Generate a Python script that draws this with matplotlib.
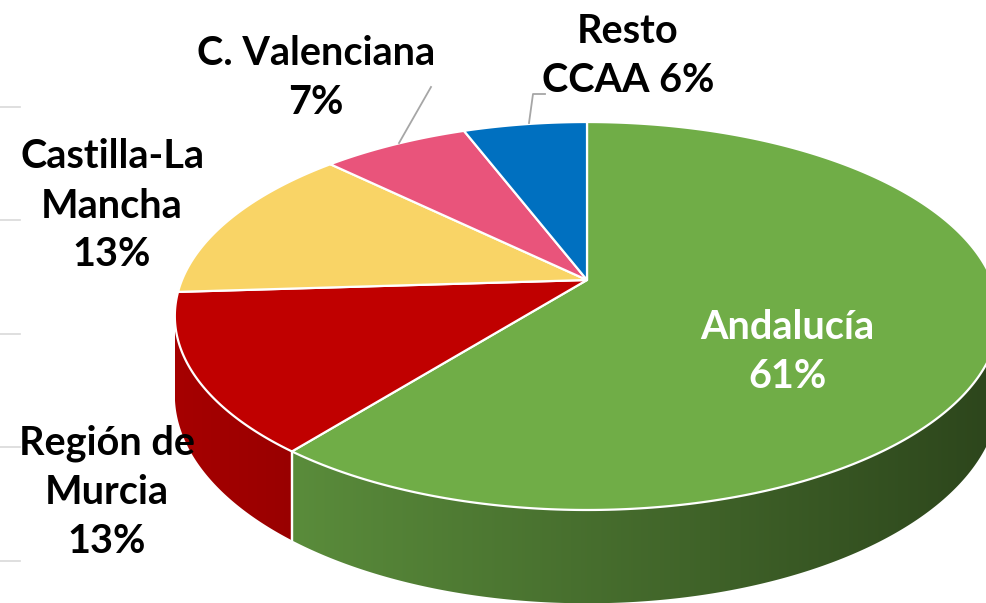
import numpy as np
import matplotlib
matplotlib.use("Agg")
import matplotlib.pyplot as plt
from matplotlib.patches import Polygon
from matplotlib.colors import to_rgb

# ---- data ----
regions = ["Andalucía", "Región de Murcia", "Castilla-La Mancha", "C. Valenciana", "Resto CCAA"]
values = [60.7, 13.3, 13.3, 6.9, 5.8]
label_templates = ["Andalucía\n{p}", "Región de\nMurcia\n{p}", "Castilla-La\nMancha\n{p}",
                   "C. Valenciana\n{p}", "Resto\nCCAA {p}"]
top_colors = ["#70AD47", "#C00000", "#F9D466", "#E9547B", "#0070C0"]
side_colors = [("#5A8C3B", "#2D461C"), ("#A60000", "#990000"), ("#D8B550", "#C9A640"),
               ("#C94467", "#B83C5C"), ("#005A9E", "#004F8A")]

# ---- geometry of the 3D projection (pixels) ----
W, H = 987, 603
cx, cy = 587, 280
A, B, K, D = 405.0, 187.3, -0.1856, 76.0

def proj(theta, z=0.0):
    u = np.sin(theta)
    v = -np.cos(theta)
    w = 1 + K * v
    return cx + A * u / w, cy + B * v / w + z * D / w

fig = plt.figure(figsize=(W / 100, H / 100), dpi=100)
ax = fig.add_axes([0, 0, 1, 1])
ax.set_xlim(0, W)
ax.set_ylim(H, 0)
ax.axis("off")

# faint grid stubs on the left
for gy in [107, 220, 334, 447, 561]:
    ax.plot([0, 20], [gy, gy], color="#D9D9D9", lw=1.2, zorder=0)

fracs = np.array(values) / sum(values)
bounds = np.concatenate([[0], np.cumsum(fracs)]) * 2 * np.pi
th_r = np.arccos(K)            # right silhouette
th_l = 2 * np.pi - th_r         # left silhouette

# side walls with horizontal gradients
for i in range(len(values)):
    a0, a1 = max(bounds[i], th_r), min(bounds[i + 1], th_l)
    if a1 <= a0:
        continue
    ts = np.linspace(a0, a1, 300)
    top = [proj(t) for t in ts]
    bot = [proj(t, 1) for t in ts[::-1]]
    pts = np.array(top + bot)
    poly = Polygon(pts, closed=True, facecolor="none", edgecolor="none")
    ax.add_patch(poly)
    x0, x1 = pts[:, 0].min(), pts[:, 0].max()
    y0, y1 = pts[:, 1].min(), pts[:, 1].max()
    if i == 0:
        gx0, gx1 = 293.0, float(W)
    else:
        gx0, gx1 = x0, x1
    xs = np.linspace(x0, x1, 400)
    t = np.clip((xs - gx0) / (gx1 - gx0), 0, 1)
    c0, c1 = np.array(to_rgb(side_colors[i][0])), np.array(to_rgb(side_colors[i][1]))
    img = c0[None, :] + (c1 - c0)[None, :] * t[:, None]
    img = np.repeat(img[None, :, :], 2, axis=0)
    im = ax.imshow(img, extent=(x0, x1, y1 + 1, y0 - 1), aspect="auto",
                   interpolation="bilinear", zorder=1)
    im.set_clip_path(poly)
    for tb in [bounds[i], bounds[i + 1]]:
        if th_r < tb < th_l:
            xa, ya = proj(tb)
            xb, yb = proj(tb, 1)
            ax.plot([xa, xb], [ya, yb], color="white", lw=1.6, zorder=2)

ax.set_xlim(0, W)
ax.set_ylim(H, 0)

# top faces
for i in range(len(values)):
    ts = np.linspace(bounds[i], bounds[i + 1], 300)
    pts = [(cx, cy)] + [proj(t) for t in ts]
    ax.add_patch(Polygon(pts, closed=True, facecolor=top_colors[i], edgecolor="white",
                         lw=1.6, joinstyle="round", zorder=3))

# labels
font = dict(family=["Lato", "DejaVu Sans"], fontweight="bold", fontsize=28.5)
label_pos = [(787, 352, "white"), (107, 492, "black"), (112, 206, "black"),
             (316, 78, "black"), (628, 56, "black")]
for i, tmpl in enumerate(label_templates):
    x, y, c = label_pos[i]
    txt = tmpl.format(p=f"{round(values[i])}%")
    ax.text(x, y, txt, ha="center", va="center", color=c, linespacing=1.4, zorder=5, **font)

# leader lines
ax.plot([431, 399], [87, 143], color="#A6A6A6", lw=1.3, zorder=4)
ax.plot([545, 533, 529], [94, 94, 123], color="#A6A6A6", lw=1.3, zorder=4)

fig.savefig("out.png", dpi=100)
